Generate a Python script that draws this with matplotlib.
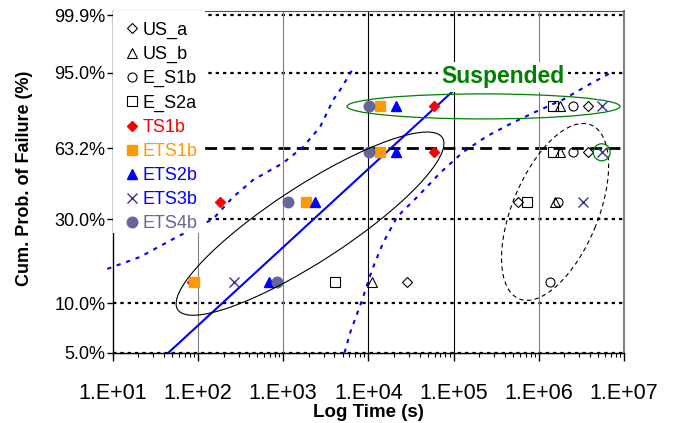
import numpy as np
import matplotlib
matplotlib.use("Agg")
import matplotlib.pyplot as plt
from matplotlib.patches import Ellipse, Rectangle
from matplotlib.transforms import ScaledTranslation
from matplotlib.ticker import FixedLocator, FuncFormatter, LogLocator, NullFormatter, NullLocator

plt.rcParams['font.family'] = ['Liberation Sans', 'DejaVu Sans']

# plotting positions (%) of the 4 ranks
rank_pct = [13.3, 36.8, 61.0, 84.1]

# time to failure / suspension (s) for each sample, one value per rank
us_a = [2.87e4, 5.75e5, 3.82e6, 3.82e6]
us_b = [1.10e4, 1.55e6, 1.78e6, 1.78e6]
e_s1b = [1.36e6, 1.70e6, 2.50e6, 2.50e6]
e_s2a = [4.06e3, 7.34e5, 1.48e6, 1.48e6]
ts1b = [85, 182, 5.94e4, 5.94e4]
ets1b = [91, 1850, 1.38e4, 1.38e4]
ets2b = [683, 2370, 2.09e4, 2.09e4]
ets3b = [265, 3.27e6, 5.48e6, 5.48e6]
ets4b = [848, 1130, 1.02e4, 1.02e4]

# weibull fit (blue line)
beta = 0.494
eta = 1.84e4
fit_range = [10, 1e5]

# confidence bounds (dotted blue)
upper_t = [8.64, 20.9, 56.9, 150, 258, 443, 997, 1713, 2711, 3853, 4655, 6438]
upper_pct = [15.9, 18.6, 24.1, 30.0, 38.8, 46.7, 55.3, 63.8, 74.3, 86.6, 90.2, 95.5]
lower_t = [5257, 6098, 8434, 11050, 14880, 21720, 37290, 69420, 129300, 247300,
           460300, 857000, 1.929e6, 4.0e6, 7.25e6]
lower_pct = [5.0, 6.6, 10.4, 15.7, 22.3, 30.8, 38.8, 50.2, 61.1, 69.6, 75.8, 81.1,
             86.8, 92.1, 95.1]

y_ticks = [5.0, 10.0, 30.0, 63.2, 95.0, 99.9]
x_decades = [1e1, 1e2, 1e3, 1e4, 1e5, 1e6, 1e7]


def weib(p):
    p = np.clip(np.asarray(p, dtype=float), 1e-6, 100 - 1e-9)
    return np.log(-np.log(1 - p / 100.0))


def weib_inv(w):
    return 100.0 * (1 - np.exp(-np.exp(np.asarray(w, dtype=float))))


fig = plt.figure(figsize=(6.75, 4.23), dpi=100)
ax = fig.add_axes([0.16696, 0.1662, 0.75748, 0.8078])
ax.set_xscale('log')
ax.set_yscale('function', functions=(weib, weib_inv))
ax.set_xlim(10, 1e7)
ax.set_ylim(5.0, 99.934)

# grid
for v in y_ticks:
    if v == 63.2:
        ax.axhline(v, color='black', lw=2, dashes=(4.3, 2.3), zorder=1)
    else:
        ax.axhline(v, color='black', lw=1.6, dashes=(1.5, 1.8), zorder=1, clip_on=False)
vcols = ['#808080', '#808080', '#000000', '#000000', '#808080']
for v, c in zip(x_decades[1:-1], vcols):
    ax.axvline(v, color=c, lw=0.8, zorder=1)

# fit line and bounds
tt = np.geomspace(fit_range[0], fit_range[1], 50)
ax.plot(tt, 100 * (1 - np.exp(-(tt / eta) ** beta)), color='#0000FF', lw=1.5, zorder=2)
ax.plot(upper_t, upper_pct, color='#0000FF', lw=1.5, dashes=(2, 2.8), zorder=2, clip_on=False)
ax.plot(lower_t, lower_pct, color='#0000FF', lw=1.5, dashes=(2, 2.8), zorder=2)

# data
styles = [
    ('US_a', us_a, dict(marker='D', ms=5.2, mfc='white', mec='black', mew=0.8), 'black'),
    ('US_b', us_b, dict(marker='^', ms=7.5, mfc='none', mec='black', mew=0.8), 'black'),
    ('E_S1b', e_s1b, dict(marker='o', ms=6.5, mfc='none', mec='black', mew=0.8), 'black'),
    ('E_S2a', e_s2a, dict(marker='s', ms=6.8, mfc='none', mec='black', mew=0.8), 'black'),
    ('TS1b', ts1b, dict(marker='D', ms=5.2, mfc='#FF0000', mec='#FF0000'), '#FF0000'),
    ('ETS1b', ets1b, dict(marker='s', ms=6.6, mfc='#FF9900', mec='#FF9900'), '#FF9900'),
    ('ETS2b', ets2b, dict(marker='^', ms=7.2, mfc='#0000FF', mec='#0000FF'), '#0000FF'),
    ('ETS3b', ets3b, dict(marker='x', ms=7.2, mec='#333399', mew=1.0), '#0000FF'),
    ('ETS4b', ets4b, dict(marker='o', ms=7.6, mfc='#666699', mec='#666699'), '#666699'),
]
for name, t, st, _ in styles:
    ax.plot(t, rank_pct, linestyle='none', label=name, zorder=3, **st)


def ellipse_at(t, p, w_px, h_px, angle, **kw):
    trans = fig.dpi_scale_trans + ScaledTranslation(t, p, ax.transData)
    e = Ellipse((0, 0), w_px / fig.dpi, h_px / fig.dpi, angle=angle,
                transform=trans, fill=False, zorder=4, **kw)
    ax.add_artist(e)


ellipse_at(2069, 28.4, 315.6, 75.8, 33, edgecolor='black', lw=0.8)
ellipse_at(1.553e6, 32.7, 188.2, 85.8, 67.5, edgecolor='black', lw=0.8, linestyle=(0, (4, 3)))
ellipse_at(2.25e5, 84.0, 273, 25, 0, edgecolor='#008000', lw=0.9)
ellipse_at(5.48e6, 61.0, 17, 17, 0, edgecolor='#008000', lw=0.9)

ax.text(3.76e5, 92.3, 'Suspended', color='#008000', fontsize=16.5, fontweight='bold',
        ha='center', va='baseline', zorder=5,
        bbox=dict(boxstyle='square,pad=0.15', facecolor='white', edgecolor='none'))

# axes
ax.xaxis.set_major_locator(FixedLocator(x_decades))
ax.xaxis.set_minor_locator(LogLocator(base=10, subs=np.arange(2, 10)))
ax.xaxis.set_minor_formatter(NullFormatter())
ax.xaxis.set_major_formatter(FuncFormatter(lambda v, pos: f"1.E+{int(round(np.log10(v))):02d}"))
ax.yaxis.set_major_locator(FixedLocator(y_ticks))
ax.yaxis.set_minor_locator(NullLocator())
ax.yaxis.set_major_formatter(FuncFormatter(lambda v, pos: f"{v:.1f}%"))
ax.tick_params(axis='x', which='major', length=5.8, width=1, labelsize=15.5, pad=16)
ax.tick_params(axis='x', which='minor', length=3, width=0.8)
ax.tick_params(axis='y', which='major', length=4.3, width=1, labelsize=13, pad=1)

for s in ['left', 'bottom']:
    ax.spines[s].set_color('black')
    ax.spines[s].set_linewidth(1)
ax.spines['top'].set_color('#555555')
ax.spines['right'].set_color('#808080')
ax.spines['right'].set_linewidth(1.5)

ax.set_xlabel('Log Time (s)', fontsize=13.5, fontweight='bold', va='center')
ax.xaxis.set_label_coords(0.5003, -0.176)
ax.set_ylabel('Cum. Prob. of Failure (%)', fontsize=13, fontweight='bold', va='center')
ax.yaxis.set_label_coords(-0.1725, 0.511)

# white box behind the legend (hides the grid there)
ax.add_patch(Rectangle((0, 0.35), 0.18, 0.65, transform=ax.transAxes,
                       facecolor='white', edgecolor='none', zorder=5))
leg = ax.legend(loc='upper left', bbox_to_anchor=(0.0237, 0.969), borderaxespad=0,
                borderpad=0, fontsize=13, frameon=False, labelspacing=0.395,
                handlelength=0.8, handletextpad=0.19, numpoints=1)
leg.set_zorder(6)
for txt, (_, _, _, c) in zip(leg.get_texts(), styles):
    txt.set_color(c)

fig.savefig('out.png', dpi=100)
